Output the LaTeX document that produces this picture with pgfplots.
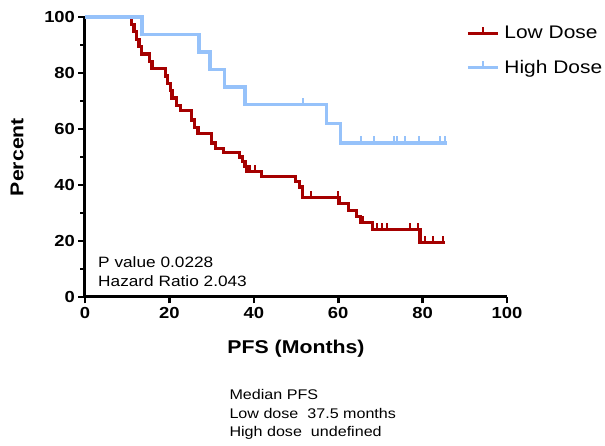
\documentclass[border=0pt]{standalone}
\usepackage{fontspec}
\setmainfont{Liberation Sans}[FakeStretch=1.15]
\usepackage{pgfplots}
\usepackage{pgfplotstable}
\pgfplotsset{compat=1.18}

\definecolor{lowred}{RGB}{165,0,0}
\definecolor{highblue}{RGB}{150,194,250}

% censor tick, drawn upward from the curve
\pgfdeclareplotmark{cens}{%
  \pgfpathmoveto{\pgfpointorigin}%
  \pgfpathlineto{\pgfpoint{0pt}{6.5pt}}%
  \pgfusepathqstroke}

\pgfplotstableread{
t s
0 100
11.0 97.4
11.6 94.7
12.2 92.1
12.8 89.5
13.4 86.8
15.2 84.2
15.9 81.6
19.0 78.9
19.6 76.3
20.2 73.7
20.6 71.1
21.7 68.4
22.6 66.6
25.3 63.2
26.0 60.5
26.8 58.5
30.0 55.0
31.0 53.0
32.9 51.6
36.7 50.0
37.4 48.3
37.9 46.5
38.4 44.8
41.9 43.1
49.8 41.2
50.9 39.3
51.5 35.5
60.2 33.3
62.4 31.0
64.4 28.7
65.2 26.6
68.2 24.2
79.4 19.4
85.3 19.4
}\lowdose

\pgfplotstableread{
t s
39.1 44.8
40.3 44.8
53.6 35.5
60.0 35.5
65.8 26.6
69.1 24.2
70.3 24.2
71.6 24.2
77.1 24.2
79.0 24.2
80.6 19.4
82.5 19.4
84.9 19.4
}\lowcens

\pgfplotstableread{
t s
0 100
13.5 93.75
27.0 87.5
29.6 81.25
33.0 75
37.9 68.75
57.3 61.875
60.6 55
85.7 55
}\highdose

\pgfplotstableread{
t s
51.6 68.75
65.3 55
68.5 55
73.2 55
73.9 55
75.8 55
79.2 55
84.1 55
85.4 55
}\highcens

\begin{document}
\begin{tikzpicture}
\path[use as bounding box] (-85pt,-149pt) rectangle (520pt,297pt);
\begin{axis}[
    at={(0pt,0pt)}, anchor=south west,
    scale only axis, width=422pt, height=280pt,
    xmin=0, xmax=100, ymin=0, ymax=100,
    axis x line*=bottom, axis y line*=left,
    axis line style={-, line width=3pt},
    xtick={0,20,...,100}, ytick={0,20,...,100},
    minor y tick num=1,
    tick align=outside,
    major tick length=6.5pt, minor tick length=4.5pt,
    every tick/.style={black, line width=2.6pt},
    tick label style={font=\bfseries\fontsize{16}{16}\selectfont},
    /pgf/number format/assume math mode=true,
    xlabel={PFS (Months)}, ylabel={Percent},
    every axis x label/.style={at={(axis description cs:0.5,-0.186)}, anchor=center,
        font=\bfseries\fontsize{18.5}{18.5}\selectfont},
    every axis y label/.style={at={(axis description cs:-0.161,0.5)}, rotate=90, anchor=center,
        font=\bfseries\fontsize{18.5}{18.5}\selectfont},
    clip=false,
    legend image code/.code={\draw[mark repeat=2, mark phase=2, #1] plot coordinates {(0pt,0pt) (15pt,0pt) (30pt,0pt)};},
    legend style={draw=none, fill=none, at={(rel axis cs:0.903,0.968)}, anchor=north west,
        font=\fontsize{18.2}{18.2}\selectfont, row sep=20pt, column sep=0pt,
        inner sep=0pt, nodes={inner sep=0pt}},
    legend cell align=left,
]
\addplot[const plot, lowred, line width=3.2pt, forget plot] table {\lowdose};
\addplot[only marks, mark=cens, lowred, mark options={line width=2pt}, forget plot] table {\lowcens};
\addplot[const plot, highblue, line width=3.2pt, forget plot] table {\highdose};
\addplot[only marks, mark=cens, highblue, mark options={line width=2pt}, forget plot] table {\highcens};

\addlegendimage{lowred, line width=3.2pt, mark=cens, mark options={line width=2pt}}
\addlegendentry{\hspace{5pt}Low Dose}
\addlegendimage{highblue, line width=3.2pt, mark=cens, mark options={line width=2pt}}
\addlegendentry{\hspace{5pt}High Dose}

\node[anchor=base west, font=\fontsize{15}{15}\selectfont] at (axis cs:2.3,10.7) {P value 0.0228};
\node[anchor=base west, font=\fontsize{15}{15}\selectfont] at (axis cs:2.3,3.6) {Hazard Ratio 2.043};
\end{axis}
\node[anchor=base west, font=\fontsize{14}{14}\selectfont] at (141pt,-103pt) {Median PFS};
\node[anchor=base west, font=\fontsize{14}{14}\selectfont] at (141pt,-121.5pt) {Low dose\ \ 37.5 months};
\node[anchor=base west, font=\fontsize{14}{14}\selectfont] at (141pt,-140pt) {High dose\ \ undefined};
\end{tikzpicture}
\end{document}
